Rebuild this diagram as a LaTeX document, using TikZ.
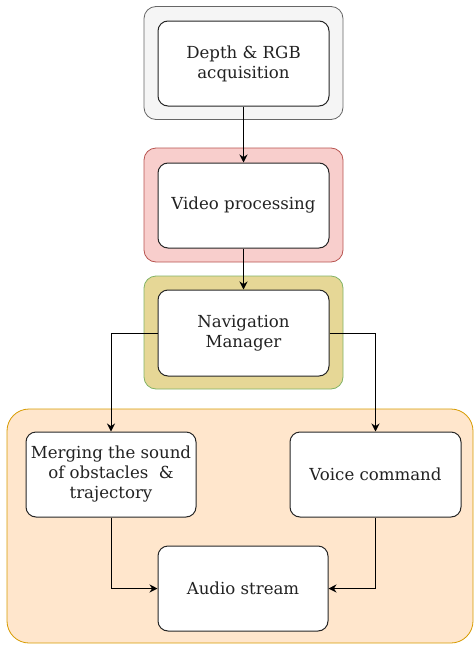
\documentclass[tikz,border=0pt]{standalone}
\usepackage{fontspec}
\setmainfont{DejaVu Serif}
\usetikzlibrary{arrows.meta}
\definecolor{grayfill}{HTML}{F5F5F5}
\definecolor{grayline}{HTML}{666666}
\definecolor{redfill}{HTML}{F8CECC}
\definecolor{redline}{HTML}{B85450}
\definecolor{khakifill}{HTML}{E6D796}
\definecolor{greenline}{HTML}{82B366}
\definecolor{orangefill}{HTML}{FFE6CC}
\definecolor{orangeline}{HTML}{D79B00}
\definecolor{txt}{HTML}{222222}
\tikzset{
  outerbox/.style={rounded corners=12pt, line width=0.8pt, inner sep=0pt},
  innerbox/.style={draw=black!85, fill=white, rounded corners=10pt, line width=1pt,
    minimum width=171pt, minimum height=85pt, inner sep=0pt, align=center,
    font=\fontsize{16.6}{20}\selectfont, text=txt},
  conn/.style={draw=black, line width=1pt, -{Stealth[length=8pt,width=8pt]}}
}
\begin{document}
\begin{tikzpicture}[x=1pt,y=-1pt]
\useasboundingbox (0,0) rectangle (474,645);
% outer containers
\node[outerbox, draw=grayline, fill=grayfill, minimum width=199pt, minimum height=113pt] (g1) at (243.5,63) {};
\node[outerbox, draw=redline, fill=redfill, minimum width=199pt, minimum height=114pt] (g2) at (243.5,205) {};
\node[outerbox, draw=greenline, fill=khakifill, minimum width=199pt, minimum height=113pt] (g3) at (243.5,332.5) {};
\node[outerbox, rounded corners=22pt, draw=orangeline, fill=orangefill, minimum width=466pt, minimum height=234pt] (g4) at (240,526) {};
% inner nodes
\node[innerbox] (depth) at (243.5,63.5) {Depth \& RGB\\acquisition};
\node[innerbox] (video) at (243.5,205.5) {Video processing};
\node[innerbox, minimum height=86pt] (nav) at (243.5,333) {Navigation\\Manager};
\node[innerbox, minimum width=170pt] (merge) at (111,474.5) {Merging the sound\\of obstacles~~\&\\trajectory};
\node[innerbox] (voice) at (375.5,474.5) {Voice command};
\node[innerbox, minimum width=170pt] (audio) at (243,588.5) {Audio stream};
% connectors
\draw[conn] (depth.south) -- (video.north);
\draw[conn] (video.south) -- (nav.north);
\draw[conn] (nav.west) -| (merge.north);
\draw[conn] (nav.east) -| (voice.north);
\draw[conn] (merge.south) |- (audio.west);
\draw[conn] (voice.south) |- (audio.east);
\end{tikzpicture}
\end{document}
